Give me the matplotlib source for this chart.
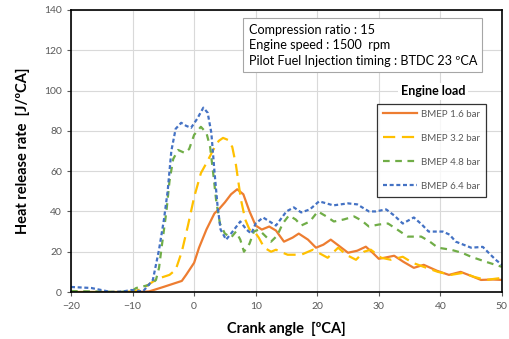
import numpy as np
import matplotlib.pyplot as plt

plt.rcParams['font.family'] = ['Lato', 'DejaVu Sans']

# BMEP 1.6 bar
x_16 = [-20, -12, -9, -7.3, -5, -3.7, -2, -1.3, 0, 0.8, 2, 3.3, 4, 5, 6, 7, 8, 9, 10, 11, 12.2, 13.3,
        14.6, 16, 17, 18.5, 19.8, 21, 22.2, 23.5, 25, 26.5, 27.9, 29, 30, 30.9, 32.5, 34, 35.7, 37.3,
        39.5, 41.4, 43.3, 45, 46.6, 48.5, 50]
y_16 = [0, 0, 0, 0.3, 2.5, 3.8, 5.5, 8.5, 14.5, 22, 31, 39, 41, 44.5, 48.5, 51, 48.5, 40, 33, 31, 32.5, 30.5,
        25, 27, 29, 26, 22, 23.5, 26, 23, 19.5, 20.5, 22.5, 19.5, 16.5, 17, 18, 15, 12, 13.5,
        10.5, 8.5, 10, 8, 6, 6.2, 6]

# BMEP 3.2 bar
x_32 = [-20, -12, -10, -9, -8, -7, -6, -5, -4, -3, -2, -1, 0, 1.1, 2, 3.1, 4, 4.7, 5.5, 6.2, 6.8, 7.6,
        8.3, 9, 9.8, 10.5, 11.4, 12.5, 13.3, 14, 15.2, 17.4, 19.3, 20.5, 21.7, 23.4, 24.7, 26.3, 27.6,
        28.7, 30.4, 32, 33.9, 35.5, 37.3, 39.6, 41.7, 43.7, 45.5, 47.4, 50]
y_32 = [0, 0, 0.3, 1, 2.5, 4.5, 6.5, 7.5, 8.5, 11, 20, 33, 47, 59, 64, 70.5, 75, 76.5, 75.5, 72, 63, 46,
        36, 31, 30, 27, 22, 20, 21, 20, 18.5, 18.5, 21, 19, 17, 22, 18.5, 16, 20,
        21, 17, 16, 17.5, 14.5, 12.5, 10, 8.5, 9.5, 7.5, 6, 7]

# BMEP 4.8 bar
x_48 = [-20, -15, -12, -10, -9.4, -8, -7, -6.2, -5.7, -5.2, -4.5, -4, -3.4, -2.6, -1.5, -0.8, 0, 1.1,
        2, 2.6, 3.1, 3.6, 4.2, 5, 6, 6.8, 7.5, 8.1, 9, 9.7, 10.5, 11.5, 12.5, 13.5, 14.4, 15.4, 16.5,
        17.4, 18.8, 20.1, 21.5, 22.7, 24.3, 26, 27.2, 28.4, 30, 31.5, 33, 34.7, 36.9, 38.3, 39.6,
        41.7, 43.5, 45, 47.4, 50]
y_48 = [0.5, 0.2, 0, 0.8, 2, 3, 3.8, 6, 12, 24, 40, 55, 66, 70.5, 69, 71, 78, 82,
        79, 72, 59, 45, 34, 29, 27, 30, 26, 20, 24, 30, 31, 28, 25, 28, 34, 38, 36,
        33, 35, 40, 37.5, 35, 36, 37.5, 35.5, 32.5, 33.5, 34, 31, 27.5, 27.5, 25, 22,
        21, 19.5, 17.5, 15, 12.5]

# BMEP 6.4 bar
x_64 = [-20, -16.7, -13.5, -11.5, -10.2, -8.3, -6.7, -5.7, -4.9, -4.3, -3.7, -3, -2.1, -1.3, -0.5,
        0.5, 1.5, 2.2, 2.8, 3.3, 3.8, 4.3, 5.2, 6, 7.5, 8.5, 9.3, 10, 11.2, 12, 13.3, 15, 16.2, 17.4,
        18.8, 20.3, 21.5, 22.6, 25, 26.5, 28.4, 29.5, 31.2, 32.5, 33.9, 35.7, 37, 38.1, 40.4, 41.5,
        42.5, 45, 46.9, 48, 49, 50]
y_64 = [2.5, 2, 0, 0.3, 1, 0.3, 6, 21, 36, 50, 70, 81, 84, 82.5, 81.5, 86, 91.5, 89, 79, 60, 43, 31, 26, 29, 35, 31,
        29, 34, 37, 35.5, 33, 40, 42, 39.5, 41, 45, 44, 43, 44, 43.5, 40, 40, 41, 38, 34, 37, 33.5, 30, 30, 28.5,
        25, 22, 22.4, 19, 16, 13.5]

x_ticks = [-20, -10, 0, 10, 20, 30, 40, 50]
y_ticks = [0, 20, 40, 60, 80, 100, 120, 140]

fig = plt.figure(figsize=(5.09, 3.39), dpi=100)
ax = fig.add_axes([0.1395, 0.1386, 0.8465, 0.832])

ax.plot(x_16, y_16, color='#ED7D31', lw=1.6, label='BMEP 1.6 bar')
ax.plot(x_32, y_32, color='#FFC000', lw=1.6, dashes=(5.5, 3), label='BMEP 3.2 bar')
ax.plot(x_48, y_48, color='#70AD47', lw=1.6, dashes=(3, 2.5), label='BMEP 4.8 bar')
ax.plot(x_64, y_64, color='#4472C4', lw=1.6, dashes=(1.8, 1.2), label='BMEP 6.4 bar')

ax.set_xlim(-20, 50)
ax.set_ylim(0, 140)
ax.set_xticks(x_ticks)
ax.set_yticks(y_ticks)
ax.grid(True, color='#d9d9d9', lw=0.8)
ax.set_axisbelow(True)
ax.tick_params(labelsize=7.5, colors='#595959', length=3)
ax.tick_params(axis='x', pad=4)
for s in ax.spines.values():
    s.set_linewidth(1.2)
    s.set_color('black')

ax.set_xlabel('Crank angle  [ºCA]', fontsize=10.5, fontweight='bold', labelpad=8)
ax.set_ylabel('Heat release rate  [J/ºCA]', fontsize=10.5, fontweight='bold', labelpad=10)

ax.text(0.412, 0.952,
        'Compression ratio : 15\nEngine speed : 1500  rpm\nPilot Fuel Injection timing : BTDC 23 ºCA',
        transform=ax.transAxes, fontsize=9.1, va='top', ha='left', linespacing=1.35,
        bbox=dict(boxstyle='square,pad=0.4', fc='white', ec='#a6a6a6', lw=0.8))

leg = ax.legend(loc='upper left', bbox_to_anchor=(0.7, 0.685), fontsize=7, frameon=True,
                fancybox=False, edgecolor='black', handlelength=3.5, labelspacing=1.55,
                borderpad=0.6, handletextpad=0.4)
leg.get_frame().set_linewidth(0.9)
for t in leg.get_texts():
    t.set_color('#595959')
ax.text(0.84, 0.69, 'Engine load', transform=ax.transAxes, fontsize=9, fontweight='bold',
        ha='center', va='bottom',
        bbox=dict(boxstyle='square,pad=0.2', fc='white', ec='none'))

fig.savefig('out.png', dpi=100)
